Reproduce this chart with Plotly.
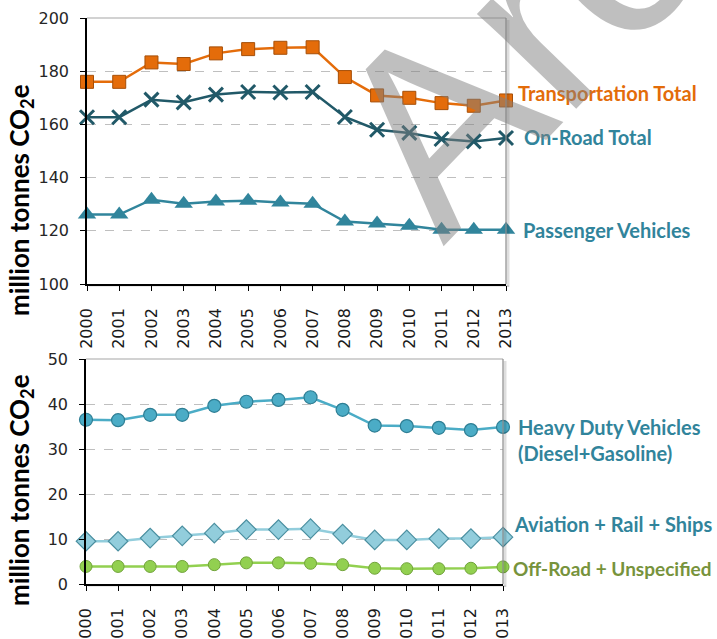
import plotly.graph_objects as go

W, H = 717, 639

years = list(range(2000, 2014))
year_labels = [str(y) for y in years]

transport_total = [176.0, 176.0, 183.3, 182.7, 186.7, 188.3, 188.8, 189.0, 177.8, 170.9, 170.0, 168.0, 167.0, 169.0]
on_road_total = [162.7, 162.7, 169.3, 168.3, 171.2, 172.2, 172.0, 172.2, 162.8, 158.0, 156.8, 154.5, 153.6, 154.9]
passenger = [126.1, 126.1, 131.7, 130.2, 131.0, 131.3, 130.6, 130.2, 123.5, 122.7, 121.9, 120.4, 120.4, 120.4]

heavy_duty = [36.5, 36.4, 37.6, 37.6, 39.6, 40.5, 40.9, 41.5, 38.7, 35.2, 35.1, 34.7, 34.2, 34.9]
aviation_rail_ships = [9.5, 9.5, 10.2, 10.7, 11.3, 12.1, 12.1, 12.3, 11.1, 9.8, 9.8, 10.1, 10.1, 10.4]
off_road = [3.9, 3.9, 3.9, 3.9, 4.3, 4.7, 4.7, 4.6, 4.3, 3.5, 3.4, 3.4, 3.5, 3.8]

top_names = ["Transportation Total", "On-Road Total", "Passenger Vehicles"]
bottom_names = ["Heavy Duty Vehicles<br>(Diesel+Gasoline)", "Aviation + Rail + Ships", "Off-Road + Unspecified"]
y_title = "million tonnes CO<sub>2</sub>e"
watermark = "Archived"


def px(x):
    return x / W


def py(y):
    return 1 - y / H


TOP = dict(x0=87, x1=506, y0=18, y1=284)
BOT = dict(x0=86, x1=503, y0=359, y1=584)

fig = go.Figure()

fig.add_trace(go.Scatter(
    x=years, y=transport_total, mode="lines+markers", name=top_names[0],
    line=dict(color="#E46C0A", width=2.5),
    marker=dict(symbol="square", size=13, color="#E46C0A", line=dict(color="#A64F08", width=1)),
    cliponaxis=False, xaxis="x", yaxis="y"))
fig.add_trace(go.Scatter(
    x=years, y=on_road_total, mode="lines+markers", name=top_names[1],
    line=dict(color="#215968", width=2.5),
    marker=dict(symbol="x-thin", size=14, color="#215968", line=dict(color="#215968", width=3)),
    cliponaxis=False, xaxis="x", yaxis="y"))
fig.add_trace(go.Scatter(
    x=years, y=passenger, mode="lines+markers", name=top_names[2],
    line=dict(color="#31859C", width=2.5),
    marker=dict(symbol="triangle-up", size=16, color="#31859C", line=dict(color="#31859C", width=0)),
    cliponaxis=False, xaxis="x", yaxis="y"))

fig.add_trace(go.Scatter(
    x=years, y=heavy_duty, mode="lines+markers", name="Heavy Duty Vehicles",
    line=dict(color="#4BACC6", width=2.5),
    marker=dict(symbol="circle", size=13, color="#4BACC6", line=dict(color="#2E7E94", width=1.2)),
    cliponaxis=False, xaxis="x2", yaxis="y2"))
fig.add_trace(go.Scatter(
    x=years, y=aviation_rail_ships, mode="lines+markers", name=bottom_names[1],
    line=dict(color="#92CDDC", width=2.5),
    marker=dict(symbol="diamond", size=15, color="#92CDDC", line=dict(color="#4A8FA0", width=1.2)),
    cliponaxis=False, xaxis="x2", yaxis="y2"))
fig.add_trace(go.Scatter(
    x=years, y=off_road, mode="lines+markers", name=bottom_names[2],
    line=dict(color="#92D050", width=2.5),
    marker=dict(symbol="circle", size=12, color="#92D050", line=dict(color="#71A33A", width=1)),
    cliponaxis=False, xaxis="x2", yaxis="y2"))

tickfont = dict(family="DejaVu Sans", size=16, color="#262626")
xtickfont = dict(family="DejaVu Sans", size=16, color="#1a1a1a")

common_x = dict(range=[2000, 2013], tickmode="array", tickvals=years, ticktext=year_labels,
                tickangle=-90, showline=True, linecolor="#000000", linewidth=1.5,
                ticks="outside", ticklen=5, tickcolor="#000000", showgrid=False,
                zeroline=False, tickfont=xtickfont, ticklabelstandoff=11, fixedrange=True,
                automargin=False)
common_y = dict(showline=True, linecolor="#000000", linewidth=1.5, ticks="outside", ticklen=5,
                tickcolor="#000000", showgrid=True, gridcolor="#BFBFBF", griddash="dash",
                gridwidth=1, zeroline=False, tickfont=tickfont, ticklabelstandoff=8, fixedrange=True,
                automargin=False)

fig.update_layout(
    width=W, height=H,
    margin=dict(l=0, r=0, t=0, b=0, autoexpand=False),
    paper_bgcolor="white", plot_bgcolor="white",
    showlegend=False,
    xaxis=dict(domain=[px(TOP["x0"]), px(TOP["x1"])], anchor="y", **common_x),
    yaxis=dict(domain=[py(TOP["y1"]), py(TOP["y0"])], anchor="x", range=[100, 200], dtick=20, **common_y),
    xaxis2=dict(domain=[px(BOT["x0"]), px(BOT["x1"])], anchor="y2", **common_x),
    yaxis2=dict(domain=[py(BOT["y1"]), py(BOT["y0"])], anchor="x2", range=[0, 50], dtick=10, **common_y),
)

shapes = []
for b in (TOP, BOT):
    shapes.append(dict(type="line", xref="paper", yref="paper",
                       x0=px(b["x1"] + 2), x1=px(b["x1"] + 2), y0=py(b["y1"] + 3), y1=py(b["y0"] + 2),
                       line=dict(color="rgba(0,0,0,0.13)", width=3)))
    shapes.append(dict(type="line", xref="paper", yref="paper",
                       x0=px(b["x0"] + 2), x1=px(b["x1"] + 3), y0=py(b["y1"] + 2), y1=py(b["y1"] + 2),
                       line=dict(color="rgba(0,0,0,0.08)", width=2)))
    shapes.append(dict(type="line", xref="paper", yref="paper",
                       x0=px(b["x0"]), x1=px(b["x1"]), y0=py(b["y0"]), y1=py(b["y0"]),
                       line=dict(color="#A6A6A6", width=1.2)))
    shapes.append(dict(type="line", xref="paper", yref="paper",
                       x0=px(b["x1"]), x1=px(b["x1"]), y0=py(b["y0"]), y1=py(b["y1"]),
                       line=dict(color="#8C8C8C", width=1.2)))
fig.update_layout(shapes=shapes)

labfont = "Lato"
annotations = []
for cy in (200, 490):
    annotations.append(dict(text=y_title, xref="paper", yref="paper", x=px(20), y=py(cy),
                            xanchor="center", yanchor="middle", textangle=-90, showarrow=False,
                            font=dict(family=labfont, size=26, color="#000000", weight="bold")))

label_specs = [
    (top_names[0], 516, 93, "#E36C09", 20),
    (top_names[1], 522, 137, "#31849B", 20),
    (top_names[2], 521, 230, "#31849B", 20),
    (bottom_names[0], 516, 440, "#31849B", 20),
    (bottom_names[1], 512, 524, "#31849B", 20),
    (bottom_names[2], 511, 568, "#77933C", 19),
]
for text, x, y, col, fs in label_specs:
    annotations.append(dict(text=text, xref="paper", yref="paper", x=px(x), y=py(y),
                            xanchor="left", yanchor="middle", align="left", showarrow=False,
                            font=dict(family=labfont, size=fs, color=col, weight="bold")))

annotations.append(dict(text=watermark, xref="paper", yref="paper", x=px(730), y=py(-180),
                        xanchor="center", yanchor="middle", textangle=-46, showarrow=False,
                        font=dict(family="Liberation Sans Narrow, Liberation Sans", size=260,
                                  color="rgba(128,128,128,0.5)")))
fig.update_layout(annotations=annotations)

fig.write_html("out.html", config={"displayModeBar": False},
               post_script="document.body.style.margin='0';document.body.style.overflow='hidden';")
